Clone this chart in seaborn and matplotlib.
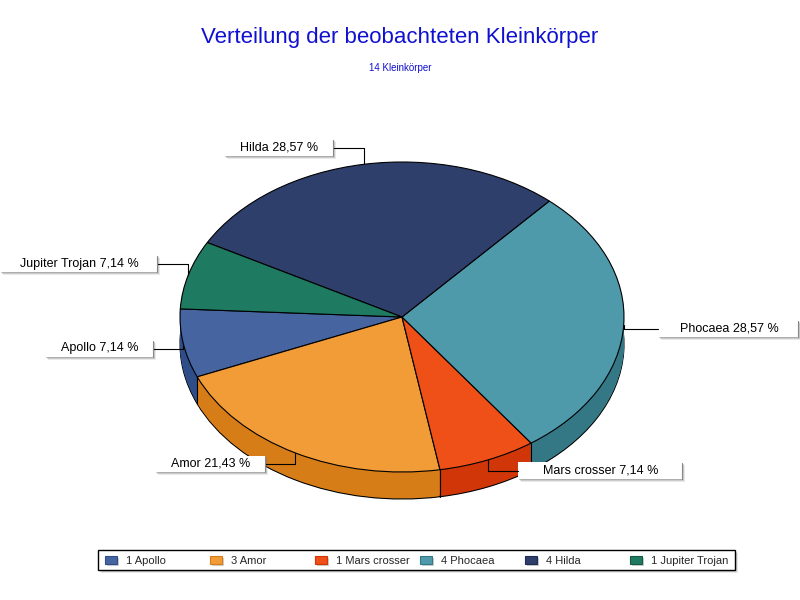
import numpy as np
import matplotlib
matplotlib.use('Agg')
import matplotlib.pyplot as plt
import seaborn as sns
from matplotlib.patches import Rectangle

# Data
categories = ['Apollo', 'Amor', 'Mars crosser', 'Phocaea', 'Hilda', 'Jupiter Trojan']
counts = [1, 3, 1, 4, 4, 1]
top_colors = ['#4564a0', '#f29c38', '#ee5018', '#4e99aa', '#2e3f6b', '#1f7a62']
side_colors = ['#2f4d88', '#d67d18', '#d03608', '#347886', '#1e2c52', '#145a47']
title = 'Verteilung der beobachteten Kleinkörper'
subtitle = '14 Kleinkörper'

sns.set_style('white')
plt.rcParams['font.family'] = ['Liberation Sans', 'DejaVu Sans']

W, H = 800, 600
cx, cy, rx, ry, depth = 402, 317, 222, 155, 27
start = 177

fig = plt.figure(figsize=(8, 6), dpi=100)

# pie axes: unit circle is stretched to an ellipse
ax = fig.add_axes([0, 0, 1, 1])
n_layers = 28
for k in range(n_layers, 0, -1):
    off = -depth / ry * k / n_layers
    ax.pie(counts, colors=side_colors, startangle=start, center=(0, off),
           wedgeprops=dict(linewidth=0.8 if k == n_layers else 0, edgecolor='black'))
wedges, _ = ax.pie(counts, colors=top_colors, startangle=start,
                   wedgeprops=dict(linewidth=0.8, edgecolor='black'))

# vertical edges where slice borders meet the front side
for w in wedges:
    t = np.deg2rad(w.theta1)
    if np.sin(t) < 0:
        x, y = np.cos(t), np.sin(t)
        ax.plot([x, x], [y, y - depth / ry], color='black', lw=0.8)

ax.set_aspect('auto')
ax.set_xlim(-cx / rx, (W - cx) / rx)
ax.set_ylim((cy - H) / ry, cy / ry)
ax.axis('off')

# overlay in pixel coordinates for labels and legend
ax2 = fig.add_axes([0, 0, 1, 1])
ax2.set_xlim(0, W)
ax2.set_ylim(H, 0)
ax2.axis('off')
ax2.patch.set_alpha(0)

ax2.text(400, 38, title, ha='center', va='center', fontsize=16, color='#1010d0')
ax2.text(400, 68, subtitle, ha='center', va='center', fontsize=7, color='#1010d0')

# label boxes (x0, y0, x1, y1) in pixels
label_boxes = [(45, 340, 153, 357), (155, 456, 265, 472), (518, 462, 682, 479),
               (658, 320, 798, 337), (224, 139, 333, 156), (0, 255, 157, 272)]

total = sum(counts)
edges = start + 360 * np.cumsum([0] + counts) / total
mids = np.deg2rad((edges[:-1] + edges[1:]) / 2)


def shadow_box(x0, y0, x1, y1, edge=None, lw=0.6, d0=3):
    for d, a in [(d0, 0.15), (d0 - 1, 0.25), (max(d0 - 2, 1), 0.3)]:
        ax2.add_patch(Rectangle((x0 + d, y0 + d), x1 - x0, y1 - y0,
                                facecolor='#707070', edgecolor='none', alpha=a))
    ax2.add_patch(Rectangle((x0, y0), x1 - x0, y1 - y0, facecolor='white',
                            edgecolor=edge or 'none', lw=lw))
    if edge is None:
        ax2.plot([x1, x1], [y0 + 1, y1], color='#888888', lw=0.8)


for cat, n, mid, box in zip(categories, counts, mids, label_boxes):
    x0, y0, x1, y1 = box
    ax_, ay_ = cx + rx * np.cos(mid), cy - ry * np.sin(mid)
    ym = (y0 + y1) / 2
    bx = x1 if ax_ > x1 else x0
    ax2.plot([bx, ax_, ax_], [ym, ym, ay_], color='black', lw=0.8)
    shadow_box(x0, y0, x1, y1)
    pct = f'{100 * n / total:.2f}'.replace('.', ',')
    ax2.text((x0 + x1) / 2 + 1, ym, f'{cat} {pct} %', ha='center', va='center',
             fontsize=9, color='black')

# legend
shadow_box(98, 550, 735, 570, edge='black', lw=1)
for i, (cat, n, c, s) in enumerate(zip(categories, counts, top_colors, side_colors)):
    x = 105 + i * 105
    ax2.add_patch(Rectangle((x + 1.5, 557.5), 12, 8, facecolor='#777777',
                            edgecolor='none', alpha=0.35))
    ax2.add_patch(Rectangle((x, 556), 12, 8, facecolor=c, edgecolor=s, lw=0.8))
    ax2.text(x + 21, 560.5, f'{n} {cat}', ha='left', va='center', fontsize=8)

fig.savefig('out.png', dpi=100)
